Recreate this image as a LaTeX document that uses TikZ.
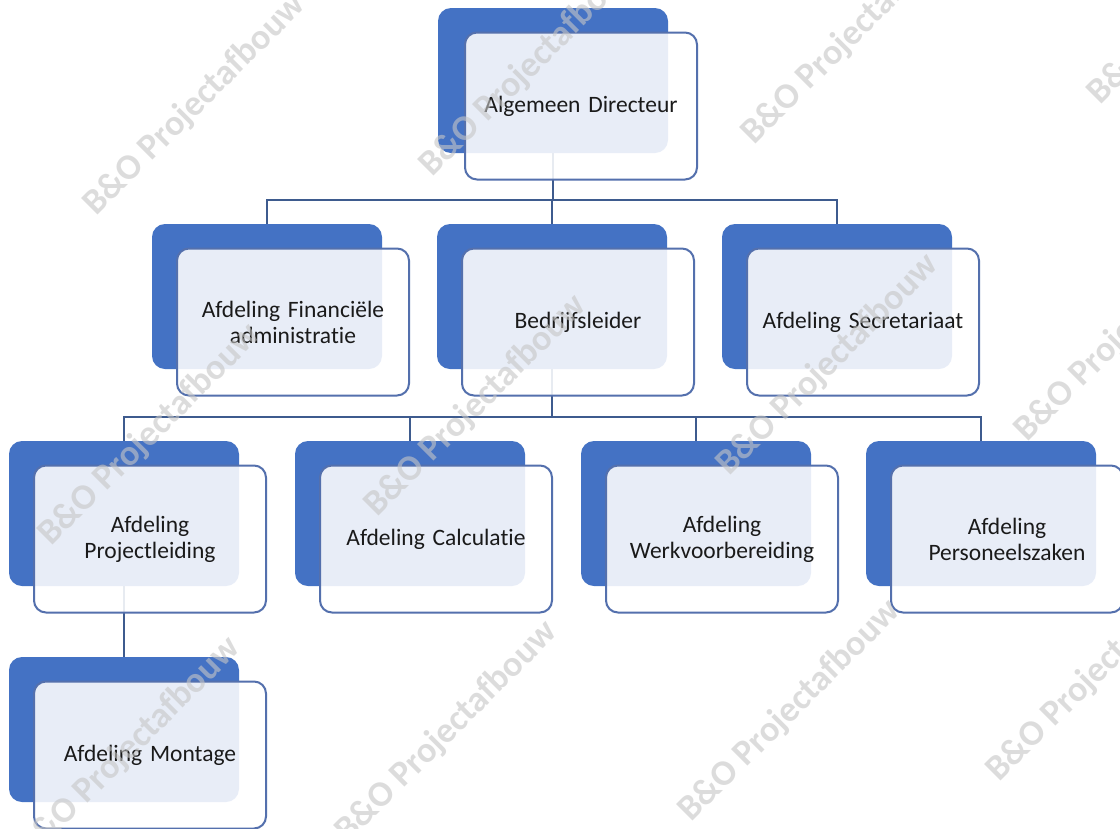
\documentclass[tikz,border=0pt]{standalone}
\usepackage{fontspec}
\setmainfont{Carlito}[Ligatures=CommonOff]
\usetikzlibrary{calc}
\definecolor{backblue}{HTML}{4472C4}
\definecolor{frontline}{HTML}{5470AD}
\definecolor{connline}{HTML}{3E5B8E}
\definecolor{txt}{HTML}{1A1A1A}
\definecolor{wm}{HTML}{C6C6C6}
\tikzset{
  backbox/.style={draw=none, fill=backblue, rounded corners=13pt, minimum width=230pt, minimum height=145pt, inner sep=0pt},
  frontbox/.style={draw=frontline, line width=2pt, fill=white, fill opacity=0.88, text opacity=1, rounded corners=12pt, minimum width=232pt, minimum height=147pt, align=center, text=txt, font=\fontsize{23.5}{26}\selectfont, inner sep=4pt, text width=222pt},
  conn/.style={draw=connline, line width=1.8pt},
  wmark/.style={text=wm, text opacity=0.6, font=\fontsize{36}{36}\selectfont\bfseries, rotate=45, inner sep=0pt}
}
\newcommand{\backunit}[3]{\node[backbox] (#1B) at (#2+115, #3+72.5) {};}
\newcommand{\frontunit}[4]{\node[frontbox] (#1F) at (#2+141, #3+98) {#4};}
\begin{document}
\begin{tikzpicture}[x=1pt, y=-1pt]
\useasboundingbox (0,0) rectangle (1120,828);
\clip (0,0) rectangle (1120,828);
\fill[white] (0,0) rectangle (1120,828);
% back boxes
\backunit{dir}{438}{8}
\backunit{fin}{152}{224}
\backunit{bed}{437}{224}
\backunit{sec}{722}{224}
\backunit{proj}{9}{441}
\backunit{calc}{295}{441}
\backunit{werk}{581}{441}
\backunit{pers}{866}{441}
\backunit{mon}{9}{657}
% connectors
\coordinate (bus1) at (dirB.south |- 0,200);
\coordinate (bus2) at (bedB.south |- 0,417);
\draw[conn] (dirB.south) -- (bus1);
\draw[conn] (finB.north) |- (bus1) -| (secB.north);
\draw[conn] (bedB.north) -- (bedB.north |- bus1);
\draw[conn] (bedB.south) -- (bus2);
\draw[conn] (projB.north) |- (bus2) -| (persB.north);
\draw[conn] (calcB.north) -- (calcB.north |- bus2);
\draw[conn] (werkB.north) -- (werkB.north |- bus2);
\draw[conn] (projB.south) -- (monB.north);
% front boxes
\frontunit{dir}{440}{8}{Algemeen Directeur}
\frontunit{fin}{152}{224}{Afdeling Financiële\\administratie}
\frontunit{bed}{437}{224}{Bedrijfsleider}
\frontunit{sec}{722}{224}{Afdeling Secretariaat}
\frontunit{proj}{9}{441}{Afdeling\\Projectleiding}
\frontunit{calc}{295}{441}{Afdeling Calculatie}
\frontunit{werk}{581}{441}{Afdeling\\Werkvoorbereiding}
\frontunit{pers}{866}{441}{Afdeling\\Personeelszaken}
\frontunit{mon}{9}{657}{Afdeling Montage}
% watermarks
\node[wmark] (w1) at (195,105) {B\&O Projectafbouw};
\node[wmark] (w2) at (531,66) {B\&O Projectafbouw};
\node[wmark] (w3) at (853,34) {B\&O Projectafbouw};
\node[wmark] (w4) at (1199,-6) {B\&O Projectafbouw};
\node[wmark] (w5) at (150,435) {B\&O Projectafbouw};
\node[wmark] (w6) at (476,406) {B\&O Projectafbouw};
\node[wmark] (w7) at (828,365) {B\&O Projectafbouw};
\node[wmark] (w8) at (1126,331) {B\&O Projectafbouw};
\node[wmark] (w9) at (130,748) {B\&O Projectafbouw};
\node[wmark] (w10) at (447,732) {B\&O Projectafbouw};
\node[wmark] (w11) at (790,711) {B\&O Projectafbouw};
\node[wmark] (w12) at (1098,671) {B\&O Projectafbouw};
\end{tikzpicture}
\end{document}
